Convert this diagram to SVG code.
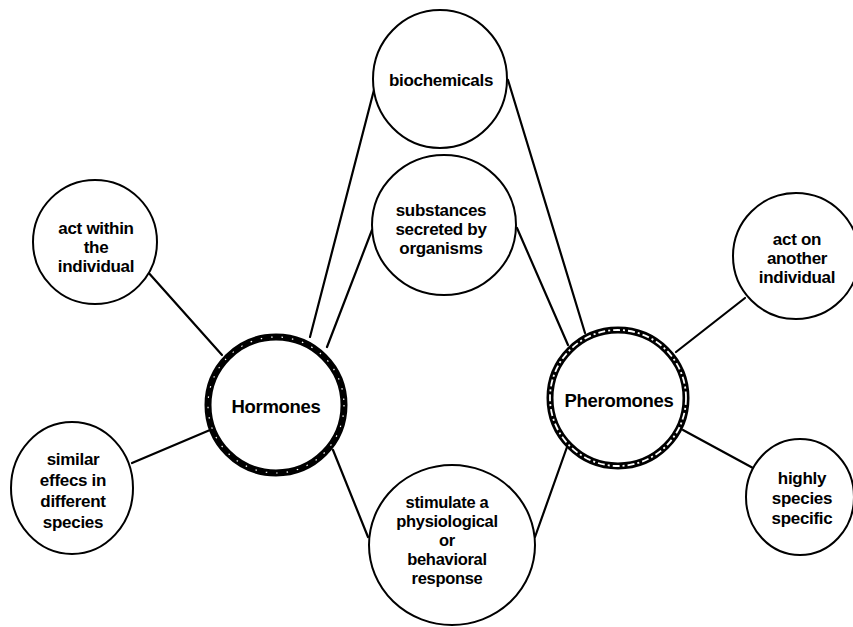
<svg xmlns="http://www.w3.org/2000/svg" width="853" height="627" viewBox="0 0 853 627">
<style>
.bg{fill:#fff}
.n{fill:#fff;stroke:#000;stroke-width:2}
.c{stroke:#000;stroke-width:2.2;fill:none;stroke-linecap:round}
text{font-family:"Liberation Sans",Arial,Helvetica,sans-serif;font-weight:bold;font-size:17px;fill:#000;text-anchor:middle;letter-spacing:-0.3px}
.big{font-size:18.5px}
.sm{font-size:16.5px}
</style>
<rect class="bg" x="0" y="0" width="853" height="627"/>
<g id="connectors">
<line class="c" x1="147" y1="271" x2="222" y2="355"/>
<line class="c" x1="132" y1="463" x2="210" y2="430"/>
<line class="c" x1="310" y1="337" x2="375" y2="86"/>
<line class="c" x1="327" y1="347" x2="372" y2="230"/>
<line class="c" x1="333" y1="450" x2="368" y2="537"/>
<line class="c" x1="508" y1="80" x2="585" y2="333"/>
<line class="c" x1="517" y1="228" x2="568" y2="345"/>
<line class="c" x1="535" y1="537" x2="567" y2="447"/>
<line class="c" x1="676" y1="352" x2="745" y2="298"/>
<line class="c" x1="683" y1="430" x2="753" y2="468"/>
</g>
<g id="biochemicals">
<ellipse class="n" cx="440" cy="79" rx="67" ry="69"/>
<text x="441" y="86">biochemicals</text>
</g>
<g id="substances">
<ellipse class="n" cx="444" cy="225" rx="72" ry="70"/>
<text x="441" y="216">substances</text>
<text x="441" y="235">secreted by</text>
<text x="441" y="254">organisms</text>
</g>
<g id="stimulate">
<ellipse class="n" cx="452" cy="545" rx="83" ry="80"/>
<text class="sm" x="447" y="508">stimulate a</text>
<text class="sm" x="447" y="527">physiological</text>
<text class="sm" x="447" y="546">or</text>
<text class="sm" x="447" y="565">behavioral</text>
<text class="sm" x="447" y="584">response</text>
</g>
<g id="act-within">
<ellipse class="n" cx="95" cy="242" rx="62" ry="62"/>
<text x="96" y="234">act within</text>
<text x="96" y="253">the</text>
<text x="96" y="272">individual</text>
</g>
<g id="similar-effects">
<ellipse class="n" cx="72" cy="488" rx="61" ry="66"/>
<text x="73" y="465">similar</text>
<text x="73" y="486">effecs in</text>
<text x="73" y="507">different</text>
<text x="73" y="528">species</text>
</g>
<g id="act-on-another">
<ellipse class="n" cx="796" cy="256" rx="63" ry="63"/>
<text x="797" y="245">act on</text>
<text x="797" y="264">another</text>
<text x="797" y="283">individual</text>
</g>
<g id="highly-specific">
<ellipse class="n" cx="800" cy="497" rx="54" ry="58"/>
<text x="802" y="484">highly</text>
<text x="802" y="504">species</text>
<text x="802" y="524">specific</text>
</g>
<g id="hormones">
<circle cx="276" cy="405" r="68" fill="#fff" stroke="#000" stroke-width="7"/>
<circle cx="276" cy="405" r="68" fill="none" stroke="#fff" stroke-width="1.2" stroke-dasharray="1.5 9"/>
<text class="big" x="276" y="413">Hormones</text>
</g>
<g id="pheromones">
<circle cx="618" cy="398" r="68" fill="#fff" stroke="#000" stroke-width="7"/>
<circle cx="618" cy="398" r="68" fill="none" stroke="#fff" stroke-width="1.8" stroke-dasharray="7 3 2 3"/>
<text class="big" x="619" y="407">Pheromones</text>
</g>
</svg>
